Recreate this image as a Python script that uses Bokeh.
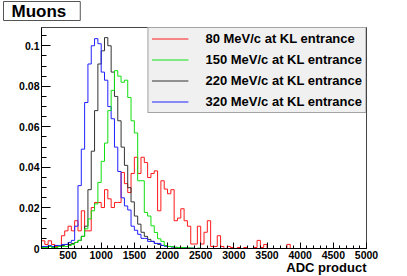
from bokeh.plotting import figure
from bokeh.models import Range1d, FixedTicker, Legend, LegendItem, Title
from bokeh.embed import file_html
from bokeh.resources import INLINE

# ---------------- data ----------------
BIN_START = 100
BIN_WIDTH = 50
N_BINS = 98          # 100 .. 5000

LABELS = ["80 MeV/c at KL entrance", "150 MeV/c at KL entrance",
          "220 MeV/c at KL entrance", "320 MeV/c at KL entrance"]

mu80 = [0.0038, 0.002, 0.0038, 0.002, 0.001, 0.001, 0.0063, 0.0087, 0.011, 0.0087,
        0.0137, 0.0087, 0.0186, 0.0087, 0.0087, 0.0202, 0.0227, 0.0227, 0.0202, 0.029,
        0.0245, 0.0202, 0.0227, 0.0227, 0.0375, 0.032, 0.0276, 0.037, 0.045, 0.037,
        0.045, 0.0424, 0.035, 0.037, 0.0383, 0.0186, 0.0334, 0.0293, 0.027, 0.029,
        0.0137, 0.015, 0.0196, 0.0137, 0.011, 0.0022, 0.0022, 0.011, 0.0022, 0.008,
        0.0137, 0.001, 0.001, 0.0063, 0.001, 0.0, 0.001, 0.0005, 0.0, 0.0005,
        0.0, 0.0005, 0.0, 0.0, 0.0005, 0.004, 0.0005, 0.002, 0.0, 0.0,
        0.0, 0.0, 0.0, 0.0, 0.002, 0.0, 0.0, 0.0, 0.0, 0.0,
        0.0, 0.0, 0.0, 0.0, 0.0, 0.0, 0.0, 0.0, 0.0, 0.0,
        0.0, 0.0, 0.0, 0.0, 0.0, 0.0, 0.0, 0.0]

mu150 = [0.0005, 0.0005, 0.001, 0.0005, 0.0005, 0.001, 0.001, 0.001, 0.0015, 0.002,
         0.003, 0.004, 0.006, 0.0097, 0.0146, 0.0186, 0.022, 0.0326, 0.043, 0.052,
         0.068, 0.078, 0.0877, 0.085, 0.082, 0.083, 0.0745, 0.063, 0.057, 0.0334,
         0.0334, 0.0178, 0.016, 0.0112, 0.0079, 0.0048, 0.0035, 0.0015, 0.001, 0.001,
         0.0005, 0.0005, 0.0005, 0.0003, 0.0003, 0.0002, 0.0, 0.0002, 0.0, 0.0,
         0.0, 0.0, 0.0, 0.0, 0.0, 0.0, 0.0, 0.0, 0.0, 0.0,
         0.0, 0.0, 0.0, 0.0, 0.0, 0.0, 0.0, 0.0, 0.0, 0.0,
         0.0, 0.0, 0.0, 0.0, 0.0, 0.0, 0.0, 0.0, 0.0, 0.0,
         0.0, 0.0, 0.0, 0.0, 0.0, 0.0, 0.0, 0.0, 0.0, 0.0,
         0.0, 0.0, 0.0, 0.0, 0.0, 0.0, 0.0, 0.0]

mu220 = [0.001, 0.001, 0.001, 0.001, 0.0015, 0.001, 0.0015, 0.002, 0.002, 0.0025,
         0.003, 0.004, 0.006, 0.011, 0.029, 0.048, 0.068, 0.091, 0.0975, 0.104,
         0.1, 0.087, 0.075, 0.063, 0.05, 0.041, 0.03, 0.023, 0.016, 0.012,
         0.008, 0.006, 0.0045, 0.0035, 0.0025, 0.002, 0.0015, 0.0012, 0.001, 0.0008,
         0.0006, 0.0005, 0.0003, 0.0003, 0.0002, 0.0, 0.0, 0.0, 0.0, 0.0,
         0.0, 0.0, 0.0, 0.0, 0.0, 0.0, 0.0, 0.0, 0.0, 0.0,
         0.0, 0.0, 0.0, 0.0, 0.0, 0.0, 0.0, 0.0, 0.0, 0.0,
         0.0, 0.0, 0.0, 0.0, 0.0, 0.0, 0.0, 0.0, 0.0, 0.0,
         0.0, 0.0, 0.0, 0.0, 0.0, 0.0, 0.0, 0.0, 0.0, 0.0,
         0.0, 0.0, 0.0, 0.0, 0.0, 0.0, 0.0, 0.0]

mu320 = [0.001, 0.001, 0.0015, 0.001, 0.0015, 0.0015, 0.002, 0.002, 0.003, 0.004,
         0.011, 0.031, 0.049, 0.072, 0.091, 0.1, 0.1035, 0.101, 0.087, 0.083,
         0.07, 0.064, 0.05, 0.038, 0.025, 0.021, 0.019, 0.011, 0.009, 0.007,
         0.005, 0.005, 0.0035, 0.0035, 0.0025, 0.0025, 0.0015, 0.0012, 0.001, 0.0008,
         0.0005, 0.0005, 0.0003, 0.0003, 0.0, 0.0002, 0.0, 0.0, 0.0, 0.0,
         0.0, 0.0, 0.0, 0.0, 0.0, 0.0, 0.0, 0.0, 0.0, 0.0,
         0.0, 0.0, 0.0, 0.0, 0.0, 0.0, 0.0, 0.0, 0.0, 0.0,
         0.0, 0.0, 0.0, 0.0, 0.0, 0.0, 0.0, 0.0, 0.0, 0.0,
         0.0, 0.0, 0.0, 0.0, 0.0, 0.0, 0.0, 0.0, 0.0, 0.0,
         0.0, 0.0, 0.0, 0.0, 0.0, 0.0, 0.0, 0.0]

XTICKS = [500, 1000, 1500, 2000, 2500, 3000, 3500, 4000, 4500, 5000]
XTICK_LABELS = ["500", "1000", "1500", "2000", "2500", "3000", "3500", "4000", "4500", "5000"]
YTICKS = [0, 0.02, 0.04, 0.06, 0.08, 0.1]
YTICK_LABELS = ["0", "0.02", "0.04", "0.06", "0.08", "0.1"]

# ---------------- figure ----------------
FONT = "Liberation Sans"
edges = [BIN_START + BIN_WIDTH * i for i in range(N_BINS + 1)]

p = figure(width=407, height=276, output_backend="svg", toolbar_location=None,
           x_range=Range1d(100, 5000), y_range=Range1d(0, 0.109),
           min_border_left=41, min_border_right=41, min_border_top=27, min_border_bottom=28)
p.xgrid.visible = False
p.ygrid.visible = False
p.background_fill_color = "white"
p.border_fill_color = "white"
p.outline_line_color = "#444444"

series = [(mu80, "#ff1a1a"), (mu220, "#333333"), (mu320, "#2020ff"), (mu150, "#10e010")]
rend = {}
for vals, col in series:
    r = p.step(x=edges, y=list(vals) + [vals[-1]], mode="after", line_color=col, line_width=1)
    rend[col] = r

for ax in (p.xaxis[0], p.yaxis[0]):
    ax.major_tick_out = 0
    ax.minor_tick_out = 0
    ax.axis_line_color = "black"
    ax.major_tick_line_color = "black"
    ax.minor_tick_line_color = "black"
    ax.major_label_text_font = FONT
    ax.major_label_text_font_style = "bold"
    ax.major_label_text_font_size = "10.5px"
    ax.major_label_text_color = "black"
    ax.major_label_standoff = 2

p.xaxis.major_tick_in = 6
p.xaxis.minor_tick_in = 3
p.xaxis.ticker = FixedTicker(ticks=XTICKS, minor_ticks=[100 * i for i in range(1, 51)])
p.xaxis.major_label_overrides = dict(zip(XTICKS, XTICK_LABELS))

p.yaxis.major_tick_in = 9
p.yaxis.minor_tick_in = 5
p.yaxis.ticker = FixedTicker(ticks=YTICKS, minor_ticks=[round(0.005 * i, 3) for i in range(22)])
p.yaxis.major_label_overrides = dict(zip(YTICKS, YTICK_LABELS))

items = [LegendItem(label=LABELS[0], renderers=[rend["#ff1a1a"]]),
         LegendItem(label=LABELS[1], renderers=[rend["#10e010"]]),
         LegendItem(label=LABELS[2], renderers=[rend["#333333"]]),
         LegendItem(label=LABELS[3], renderers=[rend["#2020ff"]])]
legend = Legend(items=items, location="top_right", margin=0, padding=3, spacing=6,
                label_height=15, glyph_height=15, glyph_width=37, label_standoff=17,
                background_fill_color="#f0f0f0", background_fill_alpha=1.0,
                border_line_color="#555555", border_line_width=1,
                label_text_font=FONT, label_text_font_style="bold",
                label_text_font_size="13px", label_text_color="black")
p.add_layout(legend)

# spacer between frame and the title box (closest to the frame)
spacer = Title(text=" ", standoff=3, text_font_size="1px", text_color="white")
p.add_layout(spacer, "above")

# top-left title box
muons = Title(text="Muons", align="left", vertical_align="middle", offset=-38, standoff=0,
              text_font=FONT, text_font_style="bold", text_font_size="17px",
              text_color="black", background_fill_color="white",
              border_line_color="#555555", border_line_width=1,
              padding=dict(left=8, right=14, top=0, bottom=0))
p.add_layout(muons, "above")

# x axis label, right aligned below tick labels
xlab = Title(text="ADC product", align="right", vertical_align="top", offset=0, standoff=-3,
             text_font=FONT, text_font_style="bold", text_font_size="13px",
             text_color="black")
p.add_layout(xlab, "below")

open("out.html", "w").write(file_html(p, INLINE))
